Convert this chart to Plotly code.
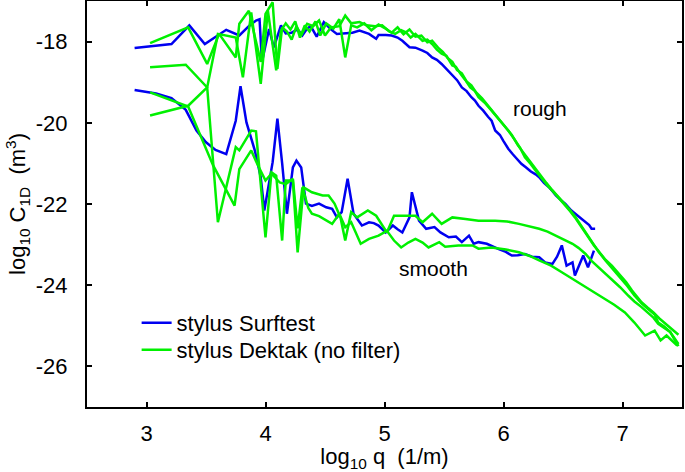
import plotly.graph_objects as go

# ---- data (log10 q, log10 C1D) ----
surf_rough_x = [2.90, 3.21, 3.36, 3.49, 3.67, 3.78, 3.86, 3.92, 3.95, 3.97, 4.03, 4.07, 4.13, 4.17, 4.22, 4.27, 4.31, 4.35,
                4.38, 4.43, 4.49, 4.55, 4.60, 4.66, 4.73, 4.79, 4.87, 4.93, 4.95, 5.01, 5.06, 5.11, 5.15, 5.21, 5.26, 5.32,
                5.36, 5.40, 5.44, 5.48, 5.53, 5.57, 5.61, 5.65, 5.69, 5.73, 5.76, 5.79, 5.83, 5.87, 5.90, 5.93, 5.97, 6.00,
                6.04, 6.08, 6.11, 6.15, 6.19, 6.23, 6.27, 6.30, 6.34, 6.38, 6.41, 6.44, 6.48, 6.52, 6.57, 6.61, 6.65, 6.69,
                6.72, 6.74, 6.77]
surf_rough_y = [-18.16, -18.06, -17.60, -18.06, -17.71, -17.85, -17.62, -17.48, -17.45, -18.50, -17.69, -18.14, -17.60,
                -17.80, -17.78, -17.70, -17.85, -17.68, -17.62, -17.88, -17.52, -17.70, -17.81, -17.80, -17.78, -17.73,
                -17.81, -17.93, -17.84, -17.84, -17.85, -17.90, -17.98, -18.14, -18.15, -18.22, -18.28, -18.39, -18.45,
                -18.55, -18.70, -18.82, -18.95, -19.13, -19.22, -19.37, -19.45, -19.58, -19.70, -19.85, -19.95, -20.19,
                -20.30, -20.45, -20.64, -20.78, -20.88, -21.01, -21.10, -21.20, -21.27, -21.34, -21.48, -21.58, -21.68,
                -21.79, -21.90, -22.00, -22.16, -22.26, -22.34, -22.45, -22.52, -22.61, -22.61]

surf_smooth_x = [2.90, 3.08, 3.21, 3.28, 3.33, 3.42, 3.50, 3.58, 3.67, 3.75, 3.79, 3.84, 3.91, 3.96, 3.99, 4.06, 4.10,
                 4.14, 4.18, 4.23, 4.26, 4.30, 4.34, 4.39, 4.45, 4.51, 4.56, 4.60, 4.64, 4.69, 4.74, 4.81, 4.87, 4.91,
                 4.95, 5.01, 5.07, 5.11, 5.15, 5.21, 5.23, 5.29, 5.35, 5.42, 5.47, 5.54, 5.60, 5.65, 5.71, 5.75, 5.79,
                 5.86, 5.91, 5.96, 6.02, 6.07, 6.12, 6.18, 6.24, 6.30, 6.35, 6.41, 6.45, 6.49, 6.53, 6.58, 6.60, 6.64,
                 6.67, 6.71, 6.76]
surf_smooth_y = [-19.19, -19.28, -19.39, -19.55, -19.68, -20.19, -20.48, -20.67, -20.77, -19.95, -19.10, -19.99, -20.68,
                 -21.34, -22.16, -20.97, -19.90, -21.00, -22.24, -21.10, -20.93, -21.10, -21.99, -22.05, -21.99, -22.08,
                 -22.12, -22.33, -22.20, -21.38, -22.24, -22.53, -22.45, -22.47, -22.53, -22.70, -22.53, -22.62, -22.70,
                 -22.33, -21.71, -22.41, -22.61, -22.57, -22.70, -22.82, -22.80, -22.94, -22.78, -22.98, -22.94, -22.98,
                 -23.05, -23.11, -23.18, -23.27, -23.26, -23.23, -23.30, -23.31, -23.44, -23.48, -23.30, -23.02, -23.52,
                 -23.44, -23.76, -23.50, -23.27, -23.56, -23.15]

dek_rough1_x = [3.03, 3.35, 3.51, 3.61, 3.75, 3.78, 3.86, 3.96, 4.00, 4.06, 4.10, 4.14, 4.18, 4.22, 4.26, 4.30, 4.35,
                4.40, 4.45, 4.50, 4.55, 4.62, 4.67, 4.72, 4.79, 4.85, 4.92, 4.98, 5.04, 5.09, 5.14, 5.18, 5.22, 5.26,
                5.32, 5.36, 5.40, 5.44, 5.48, 5.52, 5.57, 5.60, 5.64, 5.68, 5.72, 5.76, 5.79, 5.84, 5.90, 5.95, 6.00,
                6.04, 6.09, 6.14, 6.18, 6.23, 6.28, 6.32, 6.37, 6.42, 6.46, 6.51, 6.56, 6.60, 6.65, 6.71, 6.76, 6.81,
                6.85, 6.91, 6.97, 7.03, 7.08, 7.12, 7.16, 7.21, 7.26, 7.31, 7.36, 7.40, 7.44, 7.47]
dek_rough1_y = [-18.04, -17.65, -18.55, -17.81, -18.39, -17.56, -17.24, -18.50, -17.32, -17.03, -18.67, -17.65, -17.75,
                -17.95, -17.62, -17.85, -17.56, -17.62, -17.48, -17.85, -17.65, -17.62, -17.36, -17.55, -17.52, -17.60,
                -17.62, -17.60, -17.75, -17.81, -17.72, -17.77, -17.90, -17.81, -17.98, -17.95, -18.06, -18.20, -18.30,
                -18.35, -18.59, -18.62, -18.80, -18.95, -19.13, -19.22, -19.37, -19.50, -19.70, -19.88, -20.05, -20.19,
                -20.40, -20.62, -20.85, -21.02, -21.22, -21.38, -21.55, -21.70, -21.83, -22.00, -22.18, -22.33, -22.55,
                -22.82, -23.02, -23.20, -23.35, -23.52, -23.72, -23.92, -24.13, -24.28, -24.42, -24.55, -24.67, -24.82,
                -24.95, -25.05, -25.16, -25.22]

dek_rough2_x = [3.03, 3.35, 3.51, 3.60, 3.75, 3.81, 3.88, 3.96, 4.02, 4.09, 4.13, 4.17, 4.21, 4.25, 4.29, 4.33, 4.37,
                4.42, 4.46, 4.51, 4.57, 4.62, 4.67, 4.72, 4.77, 4.83, 4.89, 4.95, 5.01, 5.06, 5.11, 5.16, 5.21, 5.26,
                5.31, 5.36, 5.40, 5.45, 5.49, 5.53, 5.57, 5.61, 5.65, 5.69, 5.73, 5.77, 5.82, 5.87, 5.92, 5.97, 6.02,
                6.07, 6.12, 6.17, 6.22, 6.27, 6.31, 6.36, 6.41, 6.45, 6.50, 6.55, 6.60, 6.65, 6.70, 6.75, 6.80, 6.86,
                6.92, 6.98, 7.04, 7.10, 7.16, 7.22, 7.27, 7.30, 7.35, 7.40, 7.44, 7.47]
dek_rough2_y = [-19.82, -19.58, -19.13, -17.81, -17.90, -18.88, -17.28, -19.04, -17.24, -18.71, -17.73, -17.55, -17.70,
                -17.50, -17.90, -17.60, -17.75, -17.50, -17.85, -17.55, -17.68, -17.45, -18.39, -17.60, -17.65, -17.55,
                -17.72, -17.58, -17.68, -17.78, -17.65, -17.82, -17.70, -17.88, -17.85, -18.02, -17.98, -18.15, -18.25,
                -18.40, -18.50, -18.70, -18.78, -18.98, -19.08, -19.25, -19.40, -19.58, -19.78, -19.95, -20.12, -20.30,
                -20.55, -20.75, -20.95, -21.15, -21.30, -21.48, -21.66, -21.78, -21.95, -22.12, -22.30, -22.52, -22.75,
                -22.98, -23.18, -23.40, -23.60, -23.82, -24.02, -24.25, -24.45, -24.60, -24.72, -24.92, -25.02, -25.15,
                -25.32, -25.45]

dek_smooth1_x = [3.03, 3.33, 3.51, 3.60, 3.75, 3.78, 3.88, 3.92, 4.00, 4.05, 4.09, 4.14, 4.17, 4.23, 4.27, 4.32, 4.39,
                 4.48, 4.53, 4.58, 4.63, 4.67, 4.72, 4.77, 4.86, 4.93, 5.02, 5.08, 5.18, 5.26, 5.32, 5.40, 5.48, 5.57,
                 5.68, 5.79, 5.93, 6.03, 6.13, 6.22, 6.30, 6.37, 6.44, 6.51, 6.58, 6.63, 6.69, 6.74, 6.80, 6.85, 6.91,
                 6.98, 7.05, 7.10, 7.16, 7.21, 7.26, 7.30, 7.35, 7.40, 7.44, 7.47]
dek_smooth1_y = [-18.63, -18.57, -19.13, -22.45, -20.60, -20.68, -20.19, -20.21, -22.82, -21.22, -21.30, -22.90, -21.42,
                 -21.42, -23.19, -21.59, -21.71, -21.79, -21.79, -21.99, -22.33, -22.90, -22.20, -22.33, -22.16, -22.29,
                 -22.70, -22.29, -22.29, -22.29, -22.45, -22.24, -22.49, -22.33, -22.37, -22.41, -22.41, -22.43, -22.49,
                 -22.55, -22.61, -22.68, -22.78, -22.87, -22.98, -23.08, -23.23, -23.40, -23.56, -23.70, -23.84, -24.05,
                 -24.26, -24.40, -24.54, -24.66, -24.80, -24.95, -25.05, -25.15, -25.35, -25.50]

dek_smooth2_x = [3.03, 3.35, 3.56, 3.74, 3.78, 3.88, 3.93, 4.00, 4.05, 4.12, 4.17, 4.23, 4.27, 4.31, 4.36, 4.39, 4.45,
                 4.51, 4.56, 4.62, 4.67, 4.72, 4.80, 4.87, 4.95, 5.02, 5.08, 5.14, 5.20, 5.26, 5.32, 5.37, 5.46, 5.51,
                 5.62, 5.74, 5.79, 5.90, 6.02, 6.13, 6.22, 6.30, 6.40, 6.49, 6.60, 6.71, 6.83, 6.93, 7.02, 7.10, 7.19,
                 7.27, 7.32, 7.37, 7.46]
dek_smooth2_y = [-19.25, -19.60, -21.05, -22.04, -21.14, -20.68, -21.01, -21.42, -21.25, -21.47, -21.51, -21.38, -22.60,
                 -21.59, -22.10, -22.24, -22.30, -22.40, -22.49, -22.24, -22.57, -22.45, -22.98, -22.86, -22.78, -22.66,
                 -22.90, -23.07, -22.95, -22.86, -22.95, -23.07, -22.94, -23.05, -23.02, -23.02, -23.10, -23.07, -23.12,
                 -23.19, -23.28, -23.39, -23.52, -23.68, -23.88, -24.09, -24.30, -24.48, -24.67, -24.92, -25.24, -25.12,
                 -25.36, -25.24, -25.49]

x_ticks = [3, 4, 5, 6, 7]
y_ticks = [-26, -24, -22, -20, -18]
labels = ["stylus Surftest", "stylus Dektak (no filter)"]
notes = [("rough", 6.31, -19.65), ("smooth", 5.415, -23.59)]

BLUE = "#0000f0"
GREEN = "#00f000"
FONT = "Liberation Sans, Arial, sans-serif"

fig = go.Figure()
series = [
    (surf_rough_x, surf_rough_y, BLUE, labels[0], True, "legend"),
    (surf_smooth_x, surf_smooth_y, BLUE, labels[0], False, "legend"),
    (dek_rough1_x, dek_rough1_y, GREEN, labels[1], True, "legend2"),
    (dek_rough2_x, dek_rough2_y, GREEN, labels[1], False, "legend2"),
    (dek_smooth1_x, dek_smooth1_y, GREEN, labels[1], False, "legend2"),
    (dek_smooth2_x, dek_smooth2_y, GREEN, labels[1], False, "legend2"),
]
for xs, ys, col, name, show, leg in series:
    fig.add_trace(go.Scatter(x=xs, y=ys, mode="lines", name=name, legend=leg,
                             showlegend=show, line=dict(color=col, width=2.5)))

for text, ax, ay in notes:
    fig.add_annotation(x=ax, y=ay, text=text, showarrow=False,
                       font=dict(family=FONT, size=21, color="black"))

axis_common = dict(showgrid=False, zeroline=False, showline=True, linecolor="black", linewidth=2,
                   mirror="ticks", ticks="inside", ticklen=5, tickwidth=1.5, tickcolor="black",
                   automargin=False,
                   tickfont=dict(family=FONT, size=22, color="black"))

leg_common = dict(xanchor="left", yanchor="middle", bgcolor="rgba(0,0,0,0)",
                  font=dict(family=FONT, size=22, color="black"), itemwidth=30)

fig.update_layout(
    width=685, height=472,
    margin=dict(l=87, r=3, t=1, b=65),
    paper_bgcolor="white", plot_bgcolor="white",
    font=dict(family=FONT, size=22, color="black"),
    xaxis=dict(range=[2.5, 7.5], tickvals=x_ticks, ticktext=[str(v) for v in x_ticks],
               ticklabelstandoff=6,
               title=dict(text="log<sub>10</sub> q  (1/m)", font=dict(family=FONT, size=22), standoff=2),
               **axis_common),
    yaxis=dict(range=[-27, -17], tickvals=y_ticks, ticktext=[str(v) for v in y_ticks],
               ticklabelstandoff=13,
               title=dict(text="log<sub>10</sub> C<sub>1D</sub>  (m<sup>3</sup>)", font=dict(family=FONT, size=22),
                          standoff=4),
               **axis_common),
    legend=dict(x=0.0834, y=1 - (323 - 1) / 406, **leg_common),
    legend2=dict(x=0.0834, y=1 - (350 - 1) / 406, **leg_common),
    showlegend=True,
)

fig.write_html("out.html", config={"displayModeBar": False},
               post_script="document.body.style.margin='0px';document.body.style.padding='0px';")
